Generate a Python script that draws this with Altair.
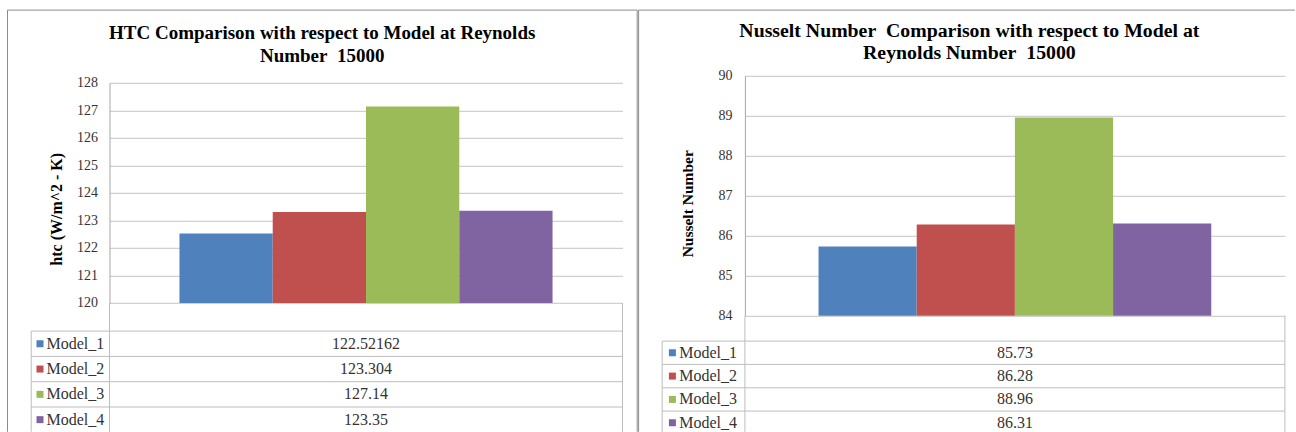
import altair as alt
import pandas as pd

# ---- values ------------------------------------------------------------
models = ["Model_1", "Model_2", "Model_3", "Model_4"]
htc_values = [122.52162, 123.304, 127.14, 123.35]
nusselt_values = [85.73, 86.28, 88.96, 86.31]
model_colors = ["#4F81BD", "#C0504D", "#9BBB59", "#8064A2"]

htc_ticks = [120, 121, 122, 123, 124, 125, 126, 127, 128]
nusselt_ticks = [84, 85, 86, 87, 88, 89, 90]

htc_title = ["HTC Comparison with respect to Model at Reynolds", "Number\u00a0 15000"]
nusselt_title = ["Nusselt Number\u00a0 Comparison with respect to Model at",
                 "Reynolds Number\u00a0 15000"]
htc_axis_title = "htc (W/m^2 - K)"
nusselt_axis_title = "Nusselt Number"

# ---- styling -----------------------------------------------------------
SERIF = "'Liberation Serif', 'Times New Roman', serif"
TEXT = "#333333"
GRID = "#C4C4C4"
AXIS = "#A6A6A6"
RULE = "#BDBDBD"
FRAME = "#8C8C8C"
PLOT_H = 240
TABLE_H = 116

color = alt.Color("model:N", scale=alt.Scale(domain=models, range=model_colors), legend=None)
single = pd.DataFrame({"k": [0]})


def rule(x1, x2, y1, y2, stroke, width=1.0):
    """A decorative line in the panel's pixel space (frames, table borders)."""
    return alt.Chart(single).mark_rule(color=stroke, strokeWidth=width).encode(
        x=alt.value(x1), x2=alt.value(x2), y=alt.value(y1), y2=alt.value(y2)
    )


def bar_panel(values, ticks, title, axis_title, width, scale_top, scale_bottom,
              title_x, title_y, title_size, axis_title_x, axis_title_y,
              axis_title_size, label_pad, frame):
    df = pd.DataFrame({"model": models, "value": values})
    bars = alt.Chart(df).mark_bar().encode(
        x=alt.X("model:N", sort=models,
                scale=alt.Scale(paddingInner=0, paddingOuter=0.75), axis=None),
        y=alt.Y(
            "value:Q",
            scale=alt.Scale(domain=[ticks[0], ticks[-1]], range=[scale_bottom, scale_top],
                            nice=False, zero=False),
            axis=alt.Axis(
                values=ticks, grid=True, gridColor=GRID, gridWidth=1,
                domain=True, domainColor=AXIS, ticks=False,
                labelFont=SERIF, labelFontSize=14, labelColor=TEXT,
                labelPadding=label_pad,
                title=axis_title, titleFont=SERIF, titleFontSize=axis_title_size,
                titleFontWeight="bold", titleColor="black",
                titleX=axis_title_x, titleY=axis_title_y, titleAngle=270,
                titleAlign="center", titleBaseline="middle",
            ),
        ),
        y2=alt.datum(ticks[0]),
        color=color,
    )
    heading = alt.Chart(single).mark_text(
        text=title, font=SERIF, fontSize=title_size, fontWeight="bold", color="black",
        align="center", baseline="middle", lineHeight=22.5,
    ).encode(x=alt.value(title_x), y=alt.value(title_y))
    return alt.layer(bars, heading, *frame).properties(width=width, height=PLOT_H)


def table_panel(values, width, row_top, row_height, key_left, key_text_x, swatch_x, gap_top):
    df = pd.DataFrame({"model": models, "text": [str(v) for v in values]})
    rows = alt.Scale(domain=models, range=[row_top, row_top + row_height * len(models)],
                     paddingInner=0, paddingOuter=0)
    y_center = alt.Y("model:N", sort=models, scale=rows, axis=None)
    y_start = alt.Y("model:N", sort=models, scale=rows, axis=None, bandPosition=0)
    base = alt.Chart(df)
    row_lines = base.mark_rule(color=RULE, strokeWidth=1).encode(
        y=y_start, x=alt.value(key_left), x2=alt.value(width))
    swatches = base.mark_square(size=49, opacity=1).encode(
        y=y_center, x=alt.value(swatch_x), color=color)
    keys = base.mark_text(align="left", baseline="middle", font=SERIF, fontSize=16,
                          color=TEXT).encode(y=y_center, x=alt.value(key_text_x), text="model:N")
    cells = base.mark_text(align="center", baseline="middle", font=SERIF, fontSize=16,
                           color=TEXT).encode(y=y_center, x=alt.value(width / 2), text="text:N")
    borders = [
        rule(key_left, key_left, row_top, TABLE_H, RULE),
        rule(0, 0, gap_top, TABLE_H, RULE),
        rule(width, width, gap_top, TABLE_H, RULE),
    ]
    return alt.layer(row_lines, swatches, keys, cells, *borders).properties(
        width=width, height=TABLE_H)


# ---- left panel: heat transfer coefficient ------------------------------
htc_frame = [
    rule(-102, 527.7, -65.7, -65.7, FRAME),
    rule(-102, -102, -65.7, 356, FRAME),
    rule(527.7, 527.7, -65.7, 356, FRAME),
]
htc_plot = bar_panel(htc_values, htc_ticks, htc_title, htc_axis_title, 513,
                     7.0, 227.2, 212.7, -42.5, 19, -53.5, 133, 16, 12, htc_frame)
htc_table = table_panel(htc_values, 513, 15.3, 25.3, -78.3, -63, -69.5, -12.8)

# ---- right panel: Nusselt number ----------------------------------------
nusselt_frame = [
    rule(-106.3, 550, -65.7, -65.7, FRAME),
    rule(-106.3, -106.3, -65.7, 356, FRAME),
]
nusselt_plot = bar_panel(nusselt_values, nusselt_ticks, nusselt_title, nusselt_axis_title, 540,
                         0.0, 240.0, 224.5, -45, 19.8, -57, 127.5, 15.5, 13, nusselt_frame)
nusselt_table = table_panel(nusselt_values, 540, 25.3, 23.33, -82.7, -65.7, -72.5, 0)

chart = alt.concat(
    htc_plot, nusselt_plot, htc_table, nusselt_table,
    columns=2, spacing={"row": 0, "column": 95.4}, bounds="flush", align="all",
).properties(
    padding={"left": 6.5, "top": 8.8, "right": 0, "bottom": 0},
    background="white",
).configure_view(stroke=None)

chart.save("out.html", embed_options={"renderer": "svg", "actions": False})
